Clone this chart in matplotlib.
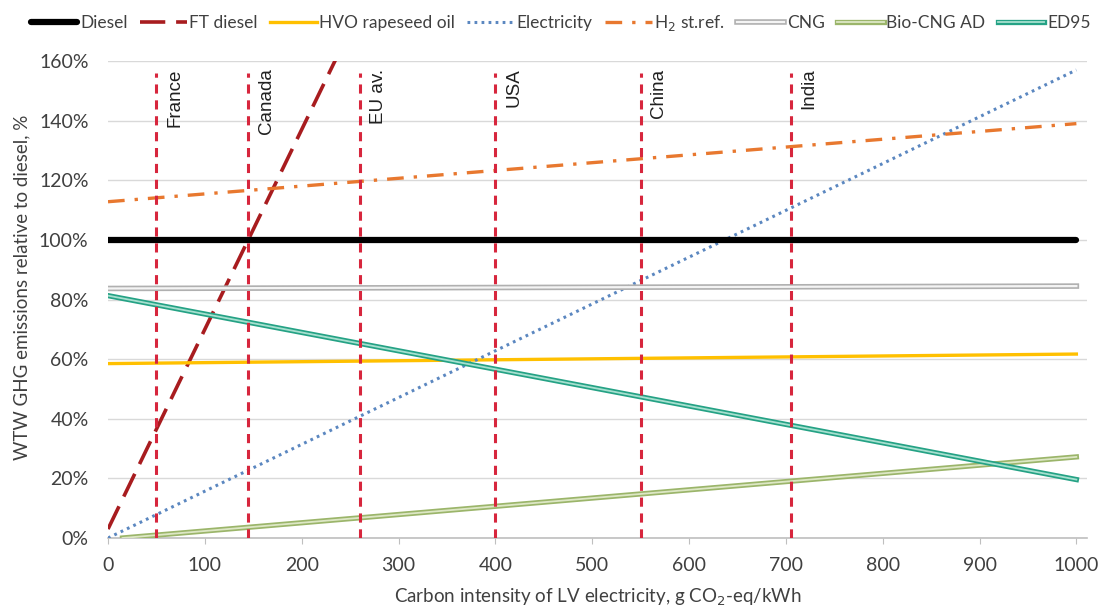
import matplotlib
matplotlib.use("Agg")
import matplotlib.pyplot as plt
import matplotlib.patheffects as pe

# x range for the linear series (g CO2-eq/kWh)
x_lin = [0, 1000]
diesel = [100, 100]
hvo = [58.5, 61.7]
electricity = [0, 157]
h2 = [112.8, 139]
cng = [83.7, 84.5]
ed95 = [81.3, 19.6]
# series that do not span the whole axis
ft_x = [0, 240]
ft_y = [3, 163.8]
bio_x = [15, 1000]
bio_y = [0, 27.2]

countries = ["France", "Canada", "EU av.", "USA", "China", "India"]
country_ci = [50, 145, 260, 400, 550, 705]
country_top = 156

xticks = list(range(0, 1001, 100))
yticks = list(range(0, 161, 20))

txt = "#404040"
plt.rcParams["font.family"] = ["Lato", "DejaVu Sans"]

fig = plt.figure(figsize=(11.1, 6.09), dpi=100)
ax = fig.add_axes([0.0973, 0.1166, 0.882, 0.7832])

ax.plot(x_lin, diesel, color="black", lw=4.5, solid_capstyle="round", label="Diesel", zorder=5)
ax.plot(ft_x, ft_y, color="#a81c1f", lw=2.6, dashes=(7, 3), label="FT diesel", zorder=4)
ax.plot(x_lin, hvo, color="#ffc000", lw=2.4, label="HVO rapeseed oil", zorder=4)
ax.plot(x_lin, electricity, color="#5b87c0", lw=2.2, dashes=(0.9, 1.4), label="Electricity", zorder=4)
ax.plot(x_lin, h2, color="#e8782f", lw=2.4, dashes=(5, 3, 1, 3), label="H$_2$ st.ref.", zorder=4)
ax.plot(x_lin, cng, color="#f4f4f4", lw=1.6, label="CNG", zorder=4,
        path_effects=[pe.Stroke(linewidth=4.0, foreground="#b0b0b0"), pe.Normal()])
ax.plot(bio_x, bio_y, color="#dde7c5", lw=1.3, label="Bio-CNG AD", zorder=4,
        path_effects=[pe.Stroke(linewidth=3.8, foreground="#9bb56a"), pe.Normal()])
ax.plot(x_lin, ed95, color="#a6e0cf", lw=1.3, label="ED95", zorder=4,
        path_effects=[pe.Stroke(linewidth=3.8, foreground="#25a285"), pe.Normal()])

for name, ci in zip(countries, country_ci):
    ax.plot([ci, ci], [0, country_top], color="#d7263d", lw=2.2, dashes=(3, 2.2), zorder=6)
    ax.annotate(name, xy=(ci, 157.5), xytext=(7, 0), textcoords="offset points",
                rotation=90, ha="left", va="top", fontsize=13.5,
                family="Liberation Sans", color="#202020")

ax.set_xlim(0, 1011)
ax.set_ylim(0, 160)
ax.set_xticks(xticks)
ax.set_yticks(yticks)
ax.set_yticklabels([f"{v}%" for v in yticks])
ax.grid(axis="y", color="#d9d9d9", lw=1)
ax.set_axisbelow(True)
for s in ["top", "right", "left"]:
    ax.spines[s].set_visible(False)
ax.spines["bottom"].set_color("#bfbfbf")
ax.spines["bottom"].set_linewidth(1.2)
ax.tick_params(axis="x", length=4, color="#bfbfbf", pad=10, labelsize=14, labelcolor=txt)
ax.tick_params(axis="y", length=0, pad=14, labelsize=14, labelcolor=txt)

ax.set_xlabel("Carbon intensity of LV electricity, g CO$_2$-eq/kWh", fontsize=13.5, color=txt)
ax.xaxis.set_label_coords(0.5, -0.102)
ax.set_ylabel("WTW GHG emissions relative to diesel, %", fontsize=13.5, color=txt)
ax.yaxis.set_label_coords(-0.079, 0.525)

fig.legend(loc="upper center", bbox_to_anchor=(0.505, 1.005), ncol=8, frameon=False,
           fontsize=12.5, handlelength=2.7, handletextpad=0.15, columnspacing=0.7,
           labelcolor=txt)

fig.savefig("out.png", dpi=100)
